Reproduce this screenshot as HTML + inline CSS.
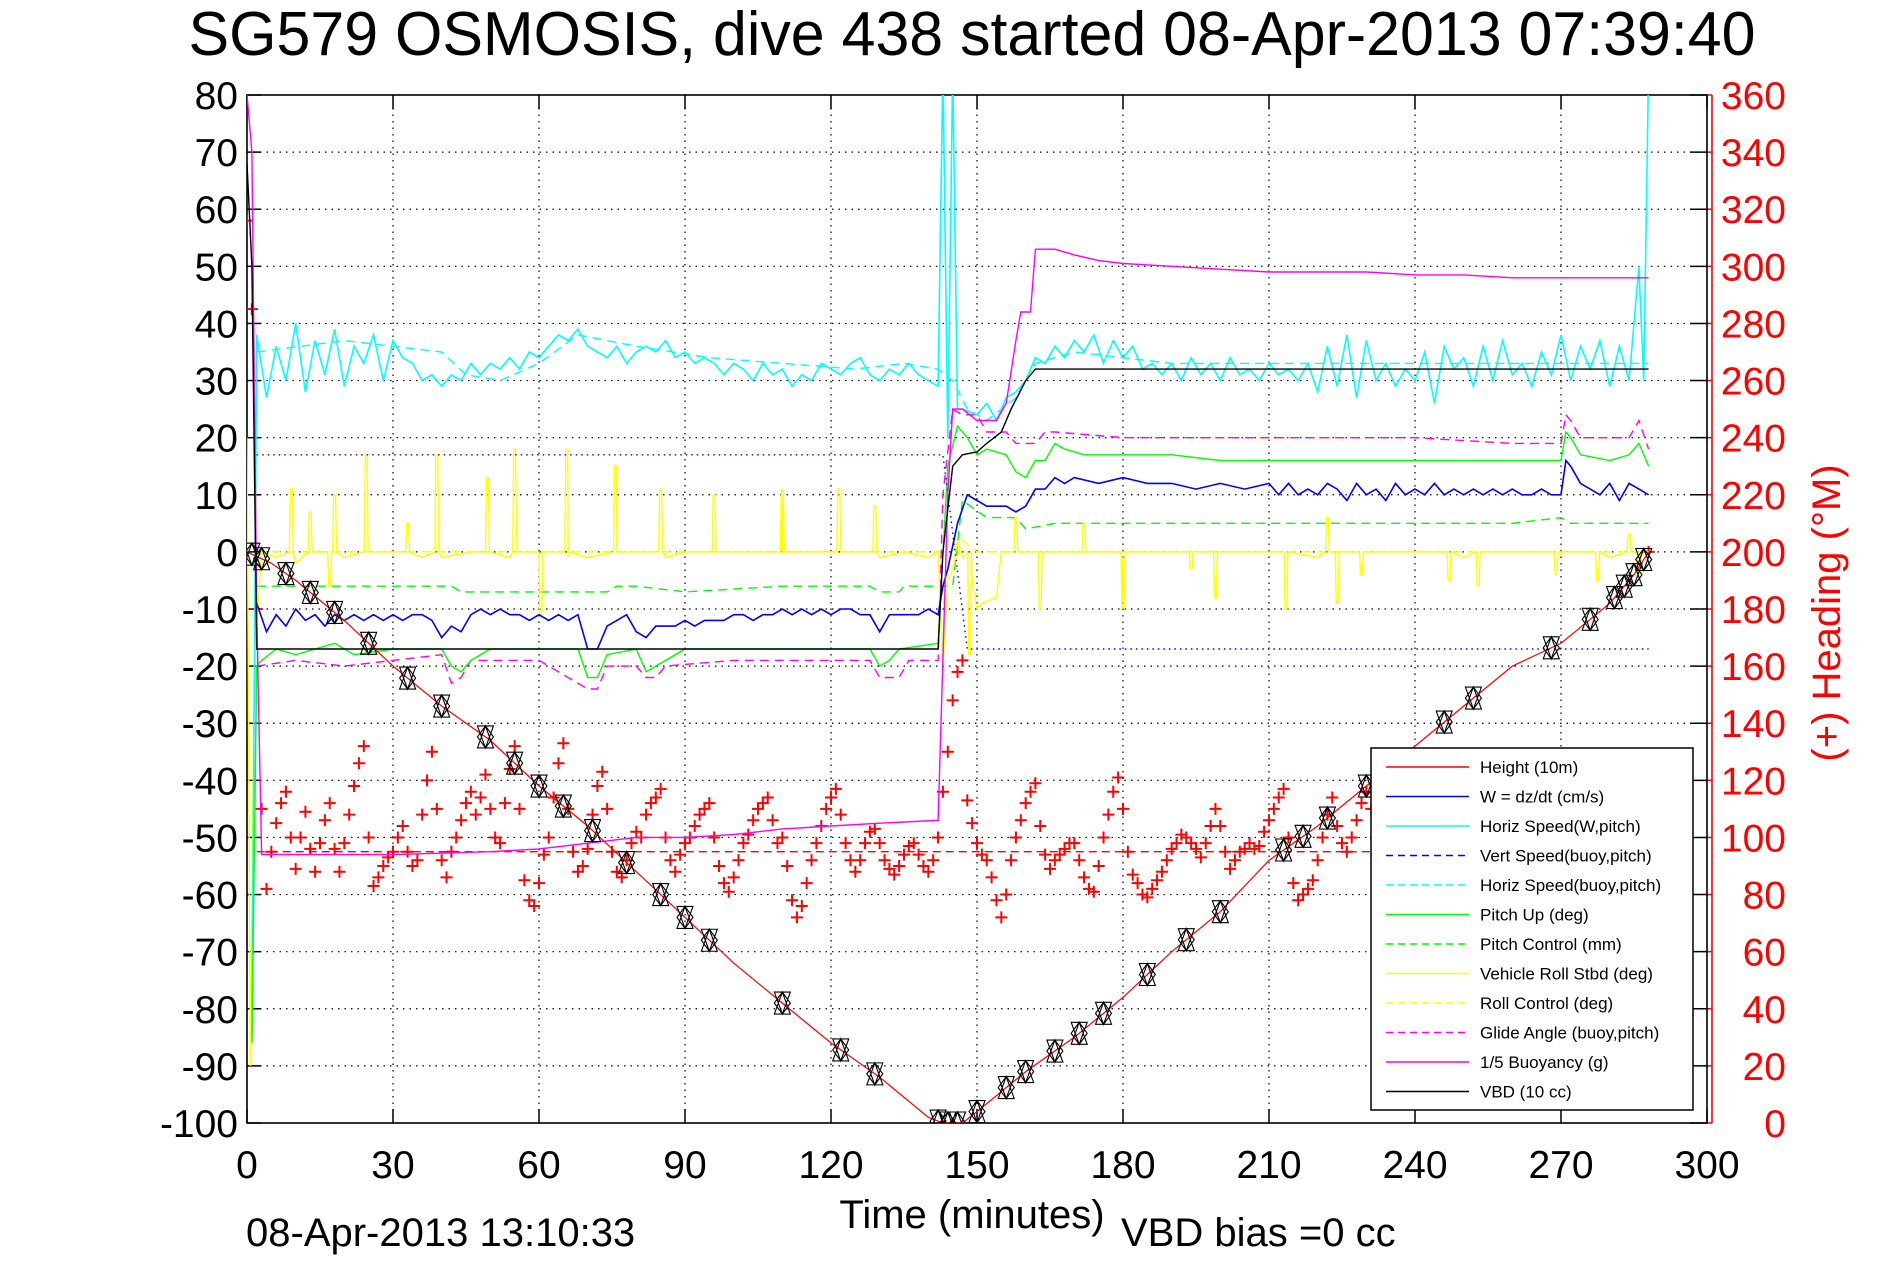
<!DOCTYPE html>
<html><head><meta charset="utf-8"><style>
body{margin:0;background:#fff;}
svg{display:block;font-family:"Liberation Sans",sans-serif;}
</style></head><body>
<svg id="chart" width="1891" height="1262" viewBox="0 0 1891 1262" xmlns="http://www.w3.org/2000/svg">
<rect width="1891" height="1262" fill="#fff"/>
<text x="972" y="55" font-size="62" text-anchor="middle" textLength="1567" lengthAdjust="spacingAndGlyphs">SG579 OSMOSIS, dive 438 started 08-Apr-2013 07:39:40</text>
<g id="grid"></g>
<g id="axes"></g>
<defs><clipPath id="clip"><rect x="247" y="95" width="1460" height="1028"/></clipPath></defs>
<g id="series" clip-path="url(#clip)"></g>
<g id="legend"></g>
<text x="972" y="1228" font-size="40" text-anchor="middle">Time (minutes)</text>
<text x="246" y="1246" font-size="40">08-Apr-2013 13:10:33</text>
<text x="1121" y="1246" font-size="40">VBD bias =0 cc</text>
<text x="0" y="0" font-size="40" fill="#f00" text-anchor="middle" transform="translate(1840,613) rotate(-90)">(+) Heading (°M)</text>
</svg>
<script>
const xTicks=[0,30,60,90,120,150,180,210,240,270,300];
const yTicks=[80,70,60,50,40,30,20,10,0,-10,-20,-30,-40,-50,-60,-70,-80,-90,-100];
const rTicks=[0,20,40,60,80,100,120,140,160,180,200,220,240,260,280,300,320,340,360];

const heightT=[0,5,10,20,30,40,50,60,70,80,90,100,110,120,130,140,143,147,150,160,170,180,190,200,210,220,230,240,250,260,270,280,285,288];
const heightV=[0,-2,-5,-12,-20,-27,-33,-41,-48,-56,-64,-72,-79,-86,-92,-99,-100,-100,-98,-91,-85,-78,-70,-63,-54,-48,-41,-34,-27,-20,-16,-9,-4,0];
const heightMarkT=[1,3,8,13,18,25,33,40,49,55,60,65,71,78,85,90,95,110,122,129,142,144,146,150,156,160,166,171,176,185,193,200,213,217,222,230,236,246,252,268,276,281,283,285,287];

const cyanDescV=[38,27,36,30,40,28,37,31,39,29,36,33,38,30,37,34,33,30,31,29,31,30,33,31,33,32,34,32,35,34,36,38,37,39,36,35,34,36,33,35,36,35,37,34,35,33,34,33,31,33,32,30,33,31,32,29,31,30,33,32,31,33,34,31,30,32,31,33,31,30,29];
const cyanAscT=[143,144,145,146,147,150,152,154,156,158,160,162,164,166,168,170,172,174,176,178,180,182,184,186,188,190,192,194,196,198,200,202,204,206,208,210,212,214,216,218,220,222,224,226,228,230,232,234,236,238,240,242,244,246,248,250,252,254,256,258,260,262,264,266,268,270,272,274,276,278,280,282,284,286,287,288];
const cyanAscV=[85,20,85,25,25,24,26,23,27,28,30,34,33,36,34,37,35,38,33,37,34,36,32,33,31,33,30,34,31,33,30,34,31,32,30,33,31,32,30,33,28,36,29,38,27,37,30,33,29,32,30,35,26,36,32,34,29,36,30,37,31,33,29,35,31,38,30,36,32,37,29,36,30,50,30,85];

const hsBuoyT=[2,20,30,40,45,52,60,68,80,95,110,125,135,142,145,148,152,158,162,170,190,220,250,280,288];
const hsBuoyV=[35,37,36,35,31,30,33,38,36,34,33,32,33,32,30,25,23,27,33,35,33,33,33,33,33];

const wT=[2,4,6,8,10,12,14,16,18,20,22,24,26,28,30,32,34,36,38,40,42,44,46,48,50,52,54,56,58,60,62,64,66,68,70,72,74,76,78,80,82,84,86,88,90,92,94,96,98,100,102,104,106,108,110,112,114,116,118,120,122,124,126,128,130,132,134,136,138,140,142,143,144,146,148,150,152,156,158,160,162,164,166,168,170,175,180,185,190,195,200,205,210,212,214,216,218,220,222,224,226,228,230,232,234,236,238,240,242,244,246,248,250,252,254,256,258,260,262,264,266,268,270,271,272,274,276,278,280,282,284,286,288];
const wV=[-9,-14,-11,-13,-10,-12,-11,-13,-11,-12,-11,-12,-11,-12,-11,-12,-11,-11,-12,-15,-13,-14,-11,-10,-11,-10,-11,-11,-12,-11,-12,-11,-12,-11,-17,-17,-13,-12,-11,-14,-15,-13,-13,-13,-12,-13,-12,-12,-12,-11,-11,-12,-11,-11,-10,-11,-10,-11,-10,-11,-10,-10,-11,-11,-14,-11,-11,-11,-11,-10,-11,-6,-3,5,10,9,8,8,7,8,11,11,13,12,13,12,13,12,12,11,12,11,12,10,12,10,11,10,12,11,9,12,10,11,9,12,10,11,10,12,10,11,10,11,10,11,10,11,10,10,11,10,10,16,15,12,11,10,12,9,12,11,10];

const vsBuoyT=[2,143,148,288];
const vsBuoyV=[17,17,-17,-17];

const pitchT=[1,2,3,6,10,14,18,22,30,40,42,44,46,50,60,68,70,72,74,80,82,84,90,100,110,120,128,130,132,134,142,144,146,148,150,152,156,158,160,162,164,166,168,172,180,190,200,210,220,230,240,250,260,270,271,272,274,280,284,286,288];
const pitchV=[-86,-20,-19,-17,-18,-17,-16,-18,-17,-17,-20,-21,-19,-17,-17,-17,-22,-22,-18,-17,-21,-20,-17,-17,-17,-17,-17,-20,-19,-17,-16,15,22,20,17,18,17,14,13,16,16,19,18,17,17,17,16,16,16,16,16,16,16,16,21,20,17,16,17,19,15];

const pcT=[2,42,44,74,76,80,90,110,128,130,134,135,142,145,147,152,158,160,166,170,200,230,260,270,272,288];
const pcV=[-6,-6,-7,-7,-6,-6,-7,-6,-6,-7,-7,-6,-6,-6,9,6,6,4,5,5,5,5,5,6,5,5];

const rollBaseT=[0,0.7,1.5,3,6,10,14,20,26,30,36,40,46,50,54,60,66,70,76,80,86,90,100,110,120,130,135,140,142,143,144,145,146,147,149,150,151,154,155,160,170,180,190,200,210,220,230,240,250,260,270,280,285,288];
const rollBaseV=[20,-90,-20,0,-1,-2,0,-1,0,0,-1,-1,0,0,-1,0,-1,-1,0,0,-1,0,0,0,0,-1,0,-1,0,-20,-5,-3,2,-1,-5,-10,-9,-8,0,0,0,-1,0,0,0,-1,0,0,-1,0,0,-1,0,0];
const rollSpikeT=[9.1,13,17,18,24.5,33,39,49.4,55,60.4,65.7,75.7,85,96,110,121.6,129,148.5,158,163,172,180,194,199,213.5,222,224,229,247,253,269,277.5,284,286];
const rollSpikeV=[11,7,-6,10,17,5,17,13,18,-11,18,15,11,10,11,11,8,-18,6,-10,5,-10,-3,-8,-10,6,-9,-4,-5,-6,-4,-5,3,-4];

const rcT=[2,143,145,147,150,288];
const rcV=[0,0,-3,2,0,0];

const glideT=[2,10,20,30,40,42,44,46,60,70,72,74,80,82,84,86,100,120,128,130,134,136,142,143,145,147,150,152,156,158,160,162,164,166,180,200,220,240,260,270,271,272,274,284,286,288];
const glideV=[-20,-19,-20,-19,-18,-23,-22,-19,-19,-24,-24,-20,-20,-22,-22,-20,-19,-19,-19,-22,-22,-19,-19,10,25,24,24,21,21,19,19,19,21,21,20,20,20,20,19,19,24,23,20,20,23,18];

const buoyT=[0,1,2,3,10,30,50,60,70,80,90,100,110,120,130,142,144,145,147,150,154,156,158,159,161,162,166,170,175,180,190,200,210,220,230,240,250,260,270,280,288];
const buoyV=[80,70,-10,-53,-53,-53,-52.5,-52,-51,-50,-50,-49.5,-48.5,-48,-47.5,-47,10,25,25,23,23,26,37,42,42,53,53,52,51,50.5,50,49.5,49,49,49,48.5,48.5,48,48,48,48];

const vbdT=[0,1,2,142,143,145,147,150,152,155,157,160,162,288];
const vbdV=[68,50,-17,-17,0,15,17,17.5,19,21,25,30,32,32];

const headingV=[316,285,180,110,82,95,105,112,116,100,89,100,109,96,88,98,106,112,96,88,98,108,118,126,132,100,83,86,90,93,95,100,104,95,90,92,108,120,130,110,92,86,95,100,106,112,116,108,114,122,110,100,98,112,124,132,110,85,78,76,84,94,100,114,126,133,110,95,88,90,96,108,118,123,110,95,88,86,92,98,102,100,108,112,114,117,100,92,88,94,98,100,104,108,110,112,100,90,84,81,86,92,98,101,106,110,112,114,106,98,100,90,78,72,76,84,92,98,104,110,114,117,108,98,92,88,92,98,102,103,98,92,89,87,90,94,97,98,94,90,88,92,100,116,130,148,158,162,113,105,98,94,92,86,78,72,80,92,100,106,112,116,119,104,94,89,92,94,96,98,98,92,86,82,81,90,100,108,116,121,110,95,87,84,80,79,82,85,88,92,96,98,101,100,98,96,93,98,104,110,104,95,89,92,95,96,98,96,97,102,106,110,114,117,100,84,78,80,82,85,92,100,108,114,104,98,95,100,106,112,116,110];
const headingTailT=[232,234,236,238,240,242,244,246,248,250,252,254,256,258,260,262,264,266,268,270,272,274,276,278,280,282,284,286,288];
const headingTailV=[100,92,88,96,106,112,100,90,86,94,104,110,98,88,92,100,108,96,88,94,102,110,100,92,96,104,98,108,200];
const desiredHeading=[95];

const L=247,R=1707,T=95,B=1123;
function xs(t){return L+(t-0)*(R-L)/300;}
function yl(v){return T+(80-v)*(B-T)/180;}
function yr(h){return T+(360-h)*(B-T)/360;}
const NS='http://www.w3.org/2000/svg';
function mk(tag,attrs,parent){const e=document.createElementNS(NS,tag);for(const k in attrs)e.setAttribute(k,attrs[k]);parent.appendChild(e);return e;}
const grid=document.getElementById('grid'),axes=document.getElementById('axes'),ser=document.getElementById('series'),leg=document.getElementById('legend');

xTicks.forEach(t=>{const x=xs(t);
 if(t>0&&t<300){const g=mk('line',{x1:x,x2:x,y1:T,y2:B,stroke:'#000','stroke-width':1.2,'stroke-dasharray':'1.5 5'},grid);}
 const a=mk('line',{x1:x,x2:x,y1:B,y2:B-14,stroke:'#000','stroke-width':1.5},axes);
 const b=mk('line',{x1:x,x2:x,y1:T,y2:T+14,stroke:'#000','stroke-width':1.5},axes);
 const lb=mk('text',{x:x,y:1178,'font-size':39,'text-anchor':'middle'},axes);lb.textContent=t;
});
yTicks.forEach(v=>{const y=yl(v);
 if(v<80&&v>-100){const g=mk('line',{x1:L,x2:R,y1:y,y2:y,stroke:'#000','stroke-width':1.2,'stroke-dasharray':'1.5 5'},grid);}
 const a=mk('line',{x1:L,x2:L+14,y1:y,y2:y,stroke:'#000','stroke-width':1.5},axes);
 const b=mk('line',{x1:R-17,x2:R,y1:y,y2:y,stroke:'#000','stroke-width':1.5},axes);
 const lb=mk('text',{x:238,y:y+14,'font-size':39,'text-anchor':'end'},axes);lb.textContent=v;
});
rTicks.forEach(h=>{const y=yr(h);
 const a=mk('line',{x1:1707,x2:1712,y1:y,y2:y,stroke:'#f00','stroke-width':1.5},axes);
 const lb=mk('text',{x:1786,y:y+14,'font-size':39,'text-anchor':'end',fill:'#f00'},axes);lb.textContent=h;
});
const frame=mk('rect',{x:L,y:T,width:R-L,height:B-T,fill:'none',stroke:'#000','stroke-width':1.6},axes);

const rax=mk('line',{x1:1712,x2:1712,y1:T,y2:B,stroke:'#f00','stroke-width':1.6},axes);


function line(ts,vs,color,dash,name,w){
 const d=ts.map((t,i)=>(i?'L':'M')+xs(t).toFixed(1)+','+yl(vs[i]).toFixed(1)).join('');
 const p=mk('path',{d:d,fill:'none',stroke:color,'stroke-width':w||1.4},ser);
 if(dash)p.setAttribute('stroke-dasharray',dash);
 
 
 return p;
}
const hT=[],hV=[];
headingV.forEach((h,i)=>{hT.push(i);hV.push(h);});
headingTailT.forEach((t,i)=>{hT.push(t);hV.push(headingTailV[i]);});
let hd='';
hT.forEach((t,i)=>{const x=xs(t),y=yr(hV[i]);hd+='M'+(x-6)+','+y+'h12M'+x+','+(y-6)+'v12';});
const hp=mk('path',{d:hd,stroke:'#f00','stroke-width':2,fill:'none'},ser);


const dh=mk('line',{x1:xs(2),x2:xs(288),y1:yr(desiredHeading[0]),y2:yr(desiredHeading[0]),stroke:'#f00','stroke-width':1.4,'stroke-dasharray':'8 5'},ser);



line(pcT,pcV,'#0f0','9 6','pitch-control-line');
line(glideT,glideV,'#f0f','9 6','glide-angle-line');
line(rcT,rcV,'#ff0','9 6','roll-control-line');
const rp=[];rollBaseT.forEach((t,i)=>rp.push([t,rollBaseV[i]]));
rollSpikeT.forEach((t,i)=>{rp.push([t-0.4,0]);rp.push([t-0.2,rollSpikeV[i]]);rp.push([t+0.2,rollSpikeV[i]]);rp.push([t+0.4,0]);});
rp.sort((a,b)=>a[0]-b[0]);
line(rp.map(p=>p[0]),rp.map(p=>p[1]),'#ff0',null,'vehicle-roll-line');
line(hsBuoyT,hsBuoyV,'#0ff','9 6','horiz-speed-buoy-line');
const cT=[1],cV=[-85];cyanDescV.forEach((v,i)=>{cT.push(2+2*i);cV.push(v);});
cyanAscT.forEach((t,i)=>{cT.push(t);cV.push(cyanAscV[i]);});
line(cT,cV,'#0ff',null,'horiz-speed-line',1.6);
line(pitchT,pitchV,'#0f0',null,'pitch-up-line');
line(wT,wV,'#00f',null,'w-line',1.6);
line(vsBuoyT,vsBuoyV,'#00f','1.5 4','vert-speed-buoy-line');
line(buoyT,buoyV,'#f0f',null,'buoyancy-line');
line(vbdT,vbdV,'#000',null,'vbd-line');
line(heightT,heightV,'#f00',null,'height-line',1.2);
function hAt(t){for(let i=1;i<heightT.length;i++){if(t<=heightT[i]){const f=(t-heightT[i-1])/(heightT[i]-heightT[i-1]);return heightV[i-1]+f*(heightV[i]-heightV[i-1]);}}return heightV[heightV.length-1];}
let md='';
heightMarkT.forEach(t=>{const x=xs(t),y=yl(hAt(t)),s=8,h=11;
 md+=`M${x},${y-h}L${x+s},${y+h}L${x-s},${y+h}Z M${x},${y+h}L${x+s},${y-h}L${x-s},${y-h}Z M${x-s},${y}L${x},${y-h}L${x+s},${y}L${x},${y+h}Z`;});
const mp=mk('path',{d:md,fill:'none',stroke:'#000','stroke-width':1.1},ser);



const lb=mk('rect',{x:1371,y:748,width:322,height:362,fill:'#fff',stroke:'#000','stroke-width':1.5},leg);

const items=[['Height (10m)','#f00',null],['W = dz/dt (cm/s)','#00f',null],['Horiz Speed(W,pitch)','#0ff',null],['Vert Speed(buoy,pitch)','#00f','7 5'],['Horiz Speed(buoy,pitch)','#0ff','7 5'],['Pitch Up (deg)','#0f0',null],['Pitch Control (mm)','#0f0','7 5'],['Vehicle Roll Stbd (deg)','#ff0',null],['Roll Control (deg)','#ff0','7 5'],['Glide Angle (buoy,pitch)','#f0f','7 5'],['1/5 Buoyancy (g)','#f0f',null],['VBD (10 cc)','#000',null]];
items.forEach((it,i)=>{const y=767+i*29.5;
 const g=mk('g',{},leg);
 const l=mk('line',{x1:1386,x2:1469,y1:y,y2:y,stroke:it[1],'stroke-width':1.6},g);if(it[2])l.setAttribute('stroke-dasharray',it[2]);
 const t=mk('text',{x:1480,y:y+6,'font-size':17},g);t.textContent=it[0];
});
</script>
</body></html>
